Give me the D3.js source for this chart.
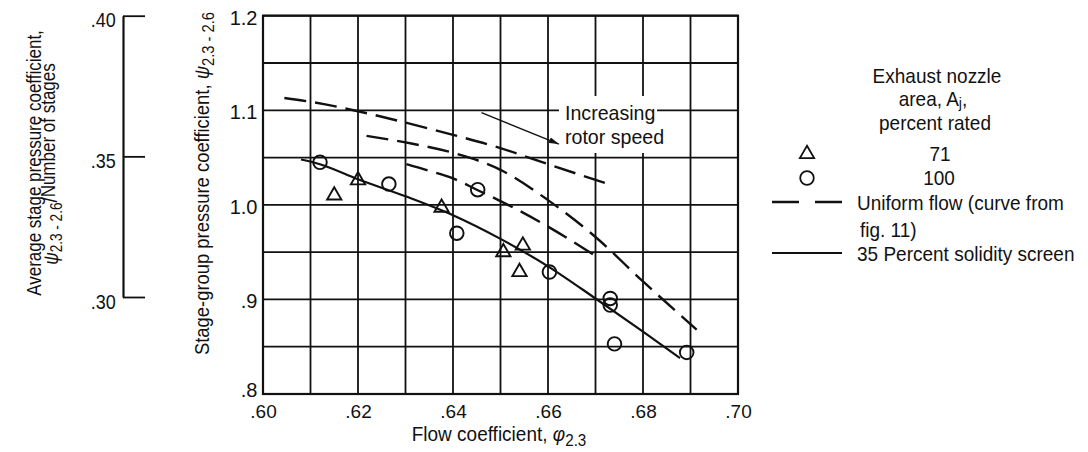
<!DOCTYPE html>
<html>
<head>
<meta charset="utf-8">
<script src="https://cdn.jsdelivr.net/npm/d3@7"></script>
<style>
  html, body { margin: 0; padding: 0; background: #fff; }
  svg { display: block; }
  text { font-family: "Liberation Sans", Arial, sans-serif; fill: #111; }
</style>
</head>
<body>
<svg id="chart" width="1088" height="452"></svg>
<script>
// ---- axis ticks and grid ----
const flowTicks = [0.60, 0.62, 0.64, 0.66, 0.68, 0.70];
const flowGrid  = [0.60, 0.61, 0.62, 0.63, 0.64, 0.65, 0.66, 0.67, 0.68, 0.69, 0.70];
const psiTicks  = [0.8, 0.9, 1.0, 1.1, 1.2];
const psiGrid   = [0.80, 0.85, 0.90, 0.95, 1.00, 1.05, 1.10, 1.15, 1.20];
const avgTicks  = [0.30, 0.35, 0.40];

// ---- measured points: exhaust nozzle area 71 percent rated ----
const tri71Flow = [0.615, 0.620, 0.6376, 0.6506, 0.6547, 0.6540];
const tri71Psi  = [1.010, 1.026, 0.997, 0.950, 0.957, 0.929];

// ---- measured points: exhaust nozzle area 100 percent rated ----
const circ100Flow = [0.612, 0.6265, 0.6408, 0.6452, 0.6603, 0.6731, 0.6731, 0.6740, 0.6892];
const circ100Psi  = [1.045, 1.022, 0.970, 1.016, 0.929, 0.901, 0.894, 0.853, 0.844];

// ---- uniform flow curves (from fig. 11), one per rotor speed ----
const uniformAFlow = [0.6045, 0.610, 0.620, 0.630, 0.640, 0.650, 0.660, 0.6727];
const uniformAPsi  = [1.113, 1.109, 1.099, 1.087, 1.074, 1.060, 1.043, 1.022];
const uniformBFlow = [0.6218, 0.630, 0.640, 0.650, 0.660, 0.670, 0.680, 0.6913];
const uniformBPsi  = [1.073, 1.066, 1.055, 1.037, 1.005, 0.966, 0.919, 0.868];
const uniformCFlow = [0.6302, 0.635, 0.640, 0.645, 0.650, 0.660, 0.670];
const uniformCPsi  = [1.043, 1.036, 1.028, 1.016, 1.004, 0.977, 0.946];

// ---- 35 percent solidity screen fairing ----
const screenFlow = [0.608, 0.612, 0.620, 0.630, 0.640, 0.650, 0.660, 0.670, 0.680, 0.6878];
const screenPsi  = [1.048, 1.043, 1.027, 1.009, 0.989, 0.964, 0.935, 0.901, 0.866, 0.838];

// ---- "increasing rotor speed" arrow, in chart units ----
const arrowFlow = [0.6460, 0.6623];
const arrowPsi  = [1.0975, 1.0643];

const svg = d3.select("#chart");
const INK = "#111";
const FONT = "'Liberation Sans', Arial, sans-serif";

const x = d3.scaleLinear().domain([0.60, 0.70]).range([263, 738]);
const y = d3.scaleLinear().domain([0.8, 1.2]).range([394, 15.7]);
const y2 = d3.scaleLinear().domain([0.30, 0.40]).range([297, 15.7]);

// text with a horizontal squeeze for the condensed lettering
function label(g, px, py, parts, opt = {}) {
  const sx = opt.sx || 0.95;
  const t = g.append("text")
    .attr("transform", `translate(${px},${py}) rotate(${opt.rotate || 0}) scale(${sx},1)`)
    .attr("text-anchor", opt.anchor || "start")
    .style("font-size", (opt.size || 20) + "px");
  parts.forEach(p => {
    const s = t.append("tspan").text(p.t);
    if (p.dy) s.attr("dy", p.dy);
    if (p.size) s.style("font-size", p.size + "px");
    if (p.italic) s.style("font-style", "italic");
  });
  return t;
}

// ---- grid ----
const grid = svg.append("g").attr("stroke", INK).attr("stroke-width", 1.8);
grid.selectAll("line.v").data(flowGrid).join("line")
  .attr("class", "v")
  .attr("x1", d => x(d)).attr("x2", d => x(d))
  .attr("y1", y(0.8)).attr("y2", y(1.2));
grid.selectAll("line.h").data(psiGrid).join("line")
  .attr("class", "h")
  .attr("x1", x(0.60)).attr("x2", x(0.70))
  .attr("y1", d => y(d)).attr("y2", d => y(d));

svg.append("rect")
  .attr("x", x(0.60)).attr("y", y(1.2))
  .attr("width", x(0.70) - x(0.60)).attr("height", y(0.8) - y(1.2))
  .attr("fill", "none").attr("stroke", INK).attr("stroke-width", 2.2);

// ---- tick labels ----
const fmt2 = d => d3.format(".2f")(d).replace(/^0/, "");
const fmt1 = d => d3.format(".1f")(d).replace(/^0/, "");

const gx = svg.append("g").attr("transform", `translate(0,${y(0.8)})`)
  .call(d3.axisBottom(x).tickValues(flowTicks).tickSize(0).tickPadding(10.5).tickFormat(fmt2));
gx.select(".domain").remove();
gx.selectAll("text").style("font-size", "19px").attr("fill", INK).style("font-family", FONT);

const gy = svg.append("g").attr("transform", `translate(${x(0.60)},0)`)
  .call(d3.axisLeft(y).tickValues(psiTicks).tickSize(0).tickPadding(5.5).tickFormat(fmt1));
gy.select(".domain").remove();
gy.selectAll("text").attr("dy", "0.42em")
  .style("font-size", "20px").attr("fill", INK).style("font-family", FONT);
// the lowest label sits just above the corner, clear of the flow labels
gy.selectAll(".tick").filter(d => d === 0.8).select("text").attr("dy", 2.5);

// ---- secondary scale: average stage coefficient ----
const g2 = svg.append("g").attr("transform", "translate(123,0)")
  .call(d3.axisLeft(y2).tickValues(avgTicks).tickSize(-22).tickSizeOuter(0).tickPadding(8).tickFormat(fmt2));
g2.select(".domain").attr("stroke", INK).attr("stroke-width", 2.2);
g2.selectAll(".tick line").attr("stroke", INK).attr("stroke-width", 1.8);
g2.selectAll("text").attr("transform", "scale(0.9,1)").attr("dy", "0.55em")
  .style("font-size", "20px").attr("fill", INK).style("font-family", FONT);

// ---- axis titles ----
label(svg, 499, 440.5, [
  { t: "Flow coefficient, " },
  { t: "φ", italic: true },
  { t: "2.3", dy: 5, size: 16 }
], { anchor: "middle" });

label(svg, 209, 183.5, [
  { t: "Stage-group pressure coefficient, " },
  { t: "ψ", italic: true },
  { t: "2.3 - 2.6", dy: 5, size: 16 }
], { anchor: "middle", rotate: -90, sx: 0.92 });

label(svg, 41, 163, [
  { t: "Average stage pressure coefficient," }
], { anchor: "middle", rotate: -90, sx: 0.85 });

label(svg, 58, 164, [
  { t: "ψ", italic: true },
  { t: "2.3 - 2.6", dy: 4, size: 16 },
  { t: "/", dy: -5, size: 22 },
  { t: "Number of stages", dy: -2 }
], { anchor: "middle", rotate: -90, sx: 0.85 });

// ---- curves ----
const line = d3.line().x(d => x(d[0])).y(d => y(d[1])).curve(d3.curveMonotoneX);
const pairs = (fx, fy) => fx.map((v, i) => [v, fy[i]]);

const curves = svg.append("g").attr("fill", "none").attr("stroke", INK);
[[uniformAFlow, uniformAPsi], [uniformBFlow, uniformBPsi], [uniformCFlow, uniformCPsi]]
  .forEach(([fx, fy]) => {
    curves.append("path").attr("d", line(pairs(fx, fy)))
      .attr("stroke-width", 2.4).attr("stroke-dasharray", "22,9");
  });
curves.append("path").attr("d", line(pairs(screenFlow, screenPsi)))
  .attr("stroke-width", 2.2);

// ---- symbols ----
const triSym = d3.symbol().type(d3.symbolTriangle).size(88);
const cirSym = d3.symbol().type(d3.symbolCircle).size(145);
const marks = svg.append("g").attr("fill", "none").attr("stroke", INK).attr("stroke-width", 1.9);
marks.selectAll("path.tri").data(pairs(tri71Flow, tri71Psi)).join("path")
  .attr("class", "tri").attr("d", triSym)
  .attr("transform", d => `translate(${x(d[0])},${y(d[1])})`);
marks.selectAll("path.cir").data(pairs(circ100Flow, circ100Psi)).join("path")
  .attr("class", "cir").attr("d", cirSym)
  .attr("transform", d => `translate(${x(d[0])},${y(d[1])})`);

// ---- annotation ----
svg.append("defs").append("marker")
  .attr("id", "head").attr("viewBox", "0 0 10 6").attr("refX", 10).attr("refY", 3)
  .attr("markerWidth", 10).attr("markerHeight", 6).attr("markerUnits", "userSpaceOnUse")
  .attr("orient", "auto")
  .append("path").attr("d", "M0,0L10,3L0,6Z").attr("fill", INK);

svg.append("rect").attr("x", 559).attr("y", 96).attr("width", 98).attr("height", 57).attr("fill", "#fff");
svg.append("line")
  .attr("x1", x(arrowFlow[0])).attr("y1", y(arrowPsi[0]))
  .attr("x2", x(arrowFlow[1])).attr("y2", y(arrowPsi[1]))
  .attr("stroke", INK).attr("stroke-width", 1.4).attr("marker-end", "url(#head)");
label(svg, 565, 120, [{ t: "Increasing" }], { sx: 0.98 });
label(svg, 565, 144, [{ t: "rotor speed" }], { sx: 0.98 });

// ---- legend ----
const lg = svg.append("g");
label(lg, 937, 83, [{ t: "Exhaust nozzle" }], { anchor: "middle" });
label(lg, 933, 106, [{ t: "area, A" }, { t: "j", dy: 2, size: 15 }, { t: ",", dy: -2 }], { anchor: "middle" });
label(lg, 935, 130, [{ t: "percent rated" }], { anchor: "middle" });

lg.append("path").attr("d", triSym).attr("transform", "translate(807,154)")
  .attr("fill", "none").attr("stroke", INK).attr("stroke-width", 1.8);
label(lg, 940, 161, [{ t: "71" }], { anchor: "middle" });
lg.append("path").attr("d", cirSym).attr("transform", "translate(807,178)")
  .attr("fill", "none").attr("stroke", INK).attr("stroke-width", 1.8);
label(lg, 939, 185, [{ t: "100" }], { anchor: "middle" });

lg.append("line").attr("x1", 772).attr("x2", 842).attr("y1", 202).attr("y2", 202)
  .attr("stroke", INK).attr("stroke-width", 2.4).attr("stroke-dasharray", "27,16");
label(lg, 857, 210, [{ t: "Uniform flow (curve from" }]);
label(lg, 860, 237, [{ t: "fig. 11)" }]);
lg.append("line").attr("x1", 772).attr("x2", 842).attr("y1", 253).attr("y2", 253)
  .attr("stroke", INK).attr("stroke-width", 2.2);
label(lg, 857, 261, [{ t: "35 Percent solidity screen" }]);
</script>
</body>
</html>
